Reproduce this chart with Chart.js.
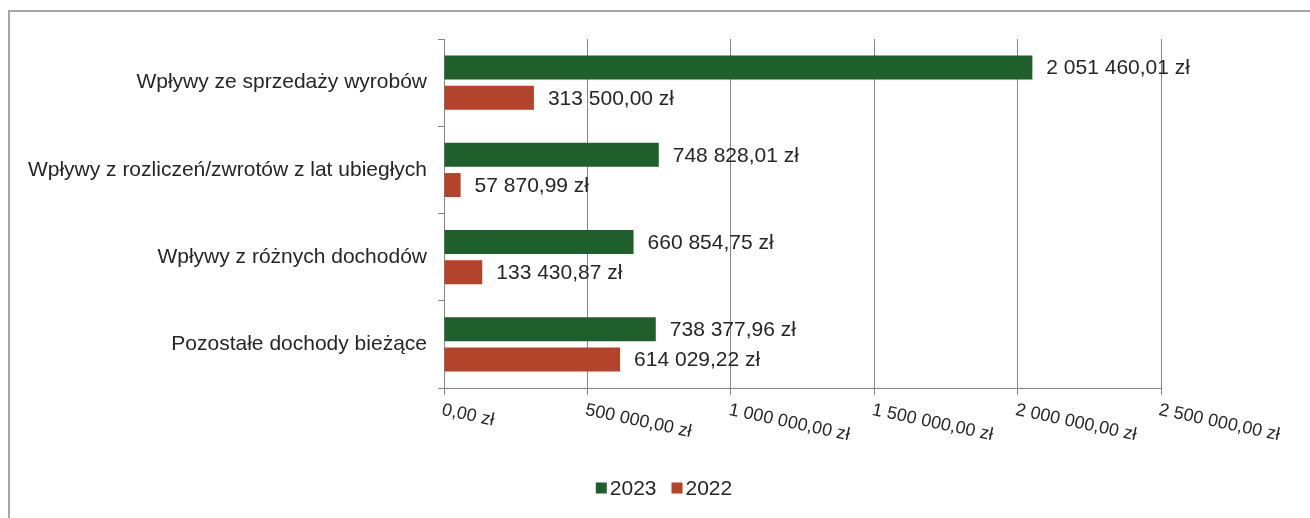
<!DOCTYPE html>
<html lang="pl">
  <head>
    <meta charset="UTF-8" />
    <title>Wpływy 2023 / 2022</title>
    <script src="https://cdn.jsdelivr.net/npm/chart.js@4"></script>
    <style>
      body {
        margin: 0;
        background: #ffffff;
        font-family: "Liberation Sans", Arial, sans-serif;
      }
      .frame {
        position: absolute;
        left: 8px;
        top: 10px;
        width: 1320px;
        height: 530px;
        border-left: 2px solid #a6a6a6;
        border-top: 2px solid #a6a6a6;
      }
      #chart {
        position: absolute;
        left: 0;
        top: 0;
      }
    </style>
  </head>
  <body>
    <div class="frame"></div>
    <canvas id="chart" width="1310" height="518"></canvas>

    <script>
      const categories = [
        "Wpływy ze sprzedaży wyrobów",
        "Wpływy z rozliczeń/zwrotów z lat ubiegłych",
        "Wpływy z różnych dochodów",
        "Pozostałe dochody bieżące",
      ];
      const values2023 = [2051460.01, 748828.01, 660854.75, 738377.96];
      const values2022 = [313500.0, 57870.99, 133430.87, 614029.22];
      const axisTicks = [0, 500000, 1000000, 1500000, 2000000, 2500000];

      const FONT = "'Liberation Sans', Arial, sans-serif";
      const TEXT = "#262626";
      const GRID = "#868686";

      // "2 051 460,01 zł"
      function formatZl(v) {
        const parts = v.toFixed(2).split(".");
        const whole = parts[0].replace(/\B(?=(\d{3})+(?!\d))/g, " ");
        return whole + "," + parts[1] + " zł";
      }

      // value labels to the right of each bar
      const valueLabels = {
        id: "valueLabels",
        afterDatasetsDraw(chart) {
          const ctx = chart.ctx;
          ctx.save();
          ctx.font = "21px " + FONT;
          ctx.fillStyle = TEXT;
          ctx.textAlign = "left";
          ctx.textBaseline = "middle";
          chart.data.datasets.forEach((ds, i) => {
            chart.getDatasetMeta(i).data.forEach((bar, j) => {
              ctx.fillText(formatZl(ds.data[j]), bar.x + 14, bar.y + 1);
            });
          });
          ctx.restore();
        },
      };

      // slanted x axis labels, starting at the tick and running down-right
      const slantedTicks = {
        id: "slantedTicks",
        afterDraw(chart) {
          const ctx = chart.ctx;
          const xs = chart.scales.x;
          ctx.save();
          ctx.font = "18px " + FONT;
          ctx.fillStyle = TEXT;
          ctx.textAlign = "left";
          ctx.textBaseline = "top";
          axisTicks.forEach((t) => {
            const px = xs.getPixelForValue(t);
            ctx.save();
            ctx.translate(px, xs.top + 13);
            ctx.rotate((12 * Math.PI) / 180);
            ctx.fillText(formatZl(t), 0, 0);
            ctx.restore();
          });
          ctx.restore();
        },
      };

      // small legend under the axis, centred like the original
      const bottomLegend = {
        id: "bottomLegend",
        afterDraw(chart) {
          const ctx = chart.ctx;
          const box = 11, gap = 3, between = 15, cx = 664, cy = 489;
          ctx.save();
          ctx.font = "21px " + FONT;
          ctx.textBaseline = "middle";
          ctx.textAlign = "left";
          const items = chart.data.datasets.map((ds) => ({
            text: ds.label,
            color: ds.backgroundColor,
            w: ctx.measureText(ds.label).width,
          }));
          let total = 0;
          items.forEach((it, i) => {
            total += box + gap + it.w + (i ? between : 0);
          });
          let x = cx - total / 2;
          items.forEach((it) => {
            ctx.fillStyle = it.color;
            ctx.fillRect(x, cy - box / 2 - 1, box, box);
            ctx.fillStyle = TEXT;
            ctx.fillText(it.text, x + box + gap, cy);
            x += box + gap + it.w + between;
          });
          ctx.restore();
        },
      };

      new Chart(document.getElementById("chart"), {
        type: "bar",
        data: {
          labels: categories,
          datasets: [
            {
              label: "2023",
              data: values2023,
              backgroundColor: "#1e5f2b",
              categoryPercentage: 0.695,
              barPercentage: 0.79,
            },
            {
              label: "2022",
              data: values2022,
              backgroundColor: "#b3432a",
              categoryPercentage: 0.695,
              barPercentage: 0.79,
            },
          ],
        },
        options: {
          indexAxis: "y",
          responsive: false,
          animation: false,
          devicePixelRatio: 1,
          layout: {
            padding: { top: 39, right: 149, left: 0, bottom: 0 },
          },
          plugins: {
            legend: { display: false },
            tooltip: { enabled: false },
          },
          scales: {
            x: {
              min: 0,
              max: 2500000,
              afterBuildTicks(scale) {
                scale.ticks = axisTicks.map((v) => ({ value: v }));
              },
              afterFit(scale) {
                scale.height = 130;
              },
              ticks: { display: false },
              grid: {
                color: GRID,
                tickLength: 7,
                drawTicks: true,
              },
              border: { color: GRID, width: 1 },
            },
            y: {
              afterFit(scale) {
                scale.width = 444;
              },
              ticks: {
                font: { size: 21, family: FONT },
                color: TEXT,
                padding: 11,
              },
              grid: {
                drawOnChartArea: false,
                color: GRID,
                tickLength: 6,
              },
              border: { color: GRID, width: 1 },
            },
          },
        },
        plugins: [valueLabels, slantedTicks, bottomLegend],
      });
    </script>
  </body>
</html>
